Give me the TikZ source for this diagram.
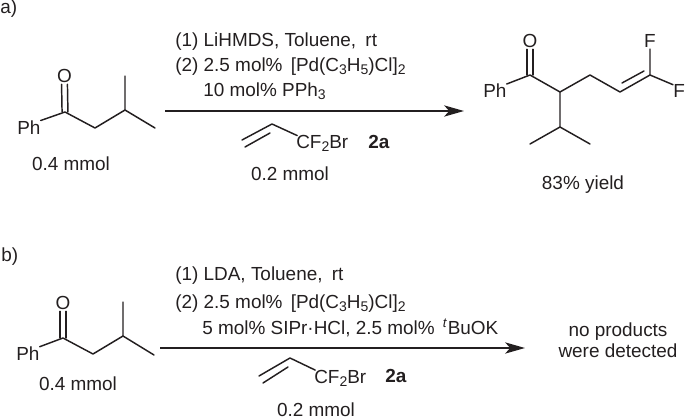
\documentclass[tikz,border=0pt]{standalone}
\usepackage{fontspec}
\setmainfont{Liberation Sans}
\usepackage{xcolor}
\usetikzlibrary{arrows.meta}
\definecolor{inkdark}{HTML}{231F20}
\newcommand{\sub}[1]{\raisebox{-2.6pt}{\fontsize{10.5}{10.5}\selectfont #1}}
\begin{document}
\begin{tikzpicture}[
  x=0.75pt, y=-0.75pt,
  lbl/.style={anchor=base west, inner sep=0pt, text=inkdark, font=\fontsize{14.2}{17}\selectfont},
  mid/.style={lbl, anchor=base},
  atom/.style={anchor=center, inner sep=1pt, text=inkdark, font=\fontsize{14.2}{17}\selectfont},
  bond/.style={draw=inkdark, line width=1.1pt, line cap=round, line join=round},
  rxn/.style={draw=inkdark, line width=1.2pt, -{Stealth[length=15pt,width=8.5pt,inset=4pt]}},
  >=stealth
]
\useasboundingbox (0,0) rectangle (685,420);
% panel a
\node[lbl] (La) at (0,14) {a)};
\node[atom] (Oa) at (64.5,76) {O};
\node[lbl] (Pha) at (17,134.5) {Ph};
\coordinate (Ca) at (65,112);
\coordinate (CHtwoa) at (95,128);
\coordinate (CHa) at (125,110);
\coordinate (Meua) at (125,76);
\coordinate (Mera) at (155,128);
\draw[bond] (Pha.north east) -- (Ca) -- (CHtwoa) -- (CHa) -- (Meua);
\draw[bond] (CHa) -- (Mera);
\draw[bond] ([xshift=-2.2pt]Oa.south) -- ([xshift=-2.2pt]Ca);
\draw[bond] ([xshift=2.2pt]Oa.south) -- ([xshift=2.2pt]Ca);
\node[mid] (Amta) at (71,170.7) {0.4 mmol};
\node[lbl] (Ra) at (175,46.5) {(1) LiHMDS, Toluene,\kern3pt\ rt};
\node[lbl] (Rb) at (175,71.5) {(2) 2.5 mol\%\kern2.2pt\ [Pd(C\sub{3}H\sub{5})Cl]\sub{2}};
\node[lbl] (Rc) at (203,96.5) {10 mol\% PPh\sub{3}};
\coordinate (ArrSa) at (165,111);
\coordinate (ArrEa) at (464,111);
\draw[rxn] (ArrSa) -- (ArrEa);
\coordinate (Vina) at (242,140);
\coordinate (Vinb) at (272,124);
\node[lbl] (CFa) at (296,148.5) {CF\sub{2}Br};
\draw[bond, shorten >=-1pt] (Vina) -- (Vinb) -- (CFa.north west);
\draw[bond] (245,147) -- (270,133);
\node[lbl] (Tagb) at (368,148.5) {\textbf{2a}};
\node[mid] (Amtb) at (290,181) {0.2 mmol};
% product
\node[atom] (Op) at (530,41) {O};
\node[lbl] (Php) at (483,98) {Ph};
\coordinate (Cp) at (530,75);
\coordinate (CHp) at (560,92);
\coordinate (CHtwop) at (590,75);
\coordinate (CHvp) at (620,92);
\coordinate (CFp) at (650,75);
\node[atom] (Fu) at (650,41) {F};
\node[lbl] (Fr) at (673,98) {F};
\coordinate (CHip) at (560,127);
\coordinate (Mel) at (530,144);
\coordinate (Mer) at (590,144);
\draw[bond] (Php.north east) -- (Cp) -- (CHp) -- (CHtwop) -- (CHvp) -- (CFp) -- (Fu);
\draw[bond] (CFp) -- (Fr.north west);
\draw[bond] (622,83) -- (644,71);
\draw[bond] (CHp) -- (CHip) -- (Mel);
\draw[bond] (CHip) -- (Mer);
\draw[bond] ([xshift=-2.2pt]Op.south) -- ([xshift=-2.2pt]Cp);
\draw[bond] ([xshift=2.2pt]Op.south) -- ([xshift=2.2pt]Cp);
\node[mid] (Yld) at (583,190) {83\% yield};
% panel b
\node[lbl] (Lb) at (1,262) {b)};
\node[atom] (Ob) at (63,303) {O};
\node[lbl] (Phb) at (16,360.7) {Ph};
\coordinate (Cb) at (63,338);
\coordinate (CHtwob) at (93,354);
\coordinate (CHb) at (123,336);
\coordinate (Meub) at (123,302);
\coordinate (Merb) at (154,355);
\draw[bond] (Phb.north east) -- (Cb) -- (CHtwob) -- (CHb) -- (Meub);
\draw[bond] (CHb) -- (Merb);
\draw[bond] ([xshift=-2.2pt]Ob.south) -- ([xshift=-2.2pt]Cb);
\draw[bond] ([xshift=2.2pt]Ob.south) -- ([xshift=2.2pt]Cb);
\node[mid] (Amtc) at (78,390) {0.4 mmol};
\node[lbl] (Rd) at (175,281) {(1) LDA, Toluene,\kern3pt\ rt};
\node[lbl] (Re) at (175,308) {(2) 2.5 mol\%\kern2.2pt\ [Pd(C\sub{3}H\sub{5})Cl]\sub{2}};
\node[lbl] (Rf) at (202,334) {5 mol\% SIPr·HCl, 2.5 mol\%\kern2.2pt\ \textsuperscript{\textit{t}}BuOK};
\coordinate (ArrSb) at (160,348);
\coordinate (ArrEb) at (525,348);
\draw[rxn] (ArrSb) -- (ArrEb);
\coordinate (Vinc) at (259,376);
\coordinate (Vind) at (290,358);
\node[lbl] (CFb) at (314,383) {CF\sub{2}Br};
\draw[bond, shorten >=-1pt] (Vinc) -- (Vind) -- (CFb.north west);
\draw[bond] (263,383) -- (288,367);
\node[lbl] (Tagd) at (385,382) {\textbf{2a}};
\node[mid] (Amtd) at (316,416.5) {0.2 mmol};
\node[mid] (Npa) at (618,336) {no products};
\node[mid] (Npb) at (618,357) {were detected};
\end{tikzpicture}
\end{document}
